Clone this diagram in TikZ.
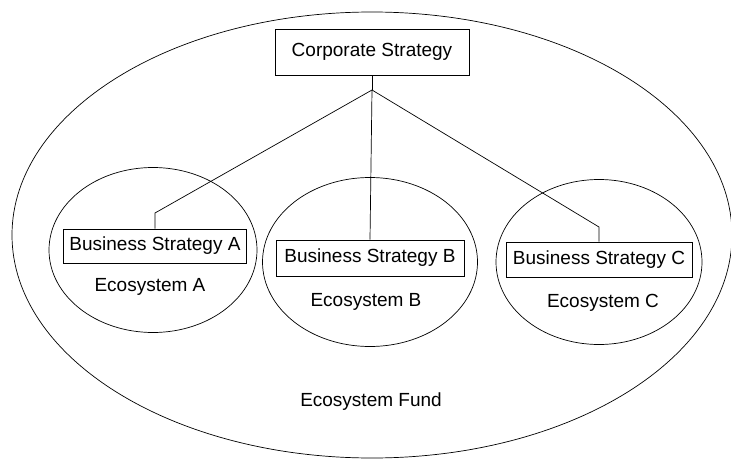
\documentclass[tikz,border=0pt]{standalone}
\usepackage{fontspec}
\setmainfont{Liberation Sans}
\usetikzlibrary{shapes}

\begin{document}
\begin{tikzpicture}[x=1pt, y=-1pt, line width=0.7pt,
	every node/.style={font=\fontsize{19}{22}\selectfont},
	strat/.style={draw, rectangle, inner sep=0pt},
	eco/.style={draw, ellipse, inner sep=0pt}]
	\useasboundingbox (0,0) rectangle (731,460);
	\node [eco, minimum width=720, minimum height=446] (fund) at (372,235) {};
	\node [strat, minimum width=194, minimum height=46] (corp) at (372,52) {Corporate Strategy};
	\coordinate (jn) at (372,90);
	\node [eco, minimum width=208, minimum height=165] (ecoA) at (153,250) {};
	\node [strat, minimum width=183, minimum height=34] (bsA) at (155,246) {Business Strategy A};
	\node [] (labA) at (150,287) {Ecosystem A};
	\coordinate (bendA) at (155,213);
	\node [eco, minimum width=215, minimum height=169] (ecoB) at (370,262) {};
	\node [strat, minimum width=188, minimum height=36] (bsB) at (370,258) {Business Strategy B};
	\node [] (labB) at (366,302) {Ecosystem B};
	\node [eco, minimum width=206, minimum height=165] (ecoC) at (599,262) {};
	\node [strat, minimum width=186, minimum height=35] (bsC) at (599,259.5) {Business Strategy C};
	\node [] (labC) at (603,303) {Ecosystem C};
	\coordinate (bendC) at (599,227);
	\node [] (labF) at (371,402) {Ecosystem Fund};
	\draw (corp) -- (jn);
	\draw (jn) -- (bendA) -- (bsA.north);
	\draw (jn) -- (bsB.north);
	\draw (jn) -- (bendC) -- (bsC.north);
\end{tikzpicture}
\end{document}
